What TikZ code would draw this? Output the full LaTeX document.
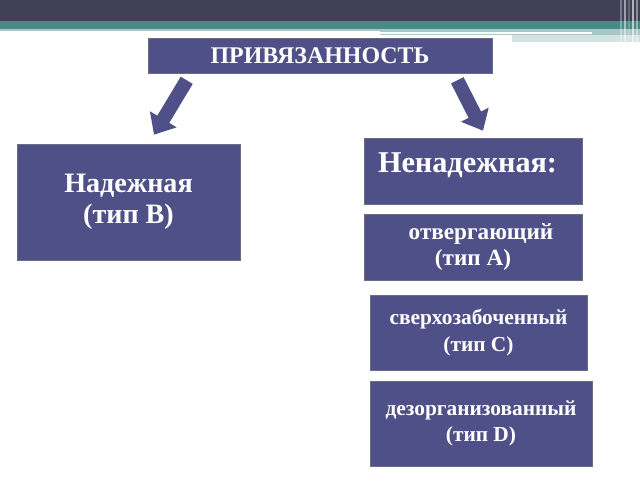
\documentclass[tikz,border=0pt]{standalone}
\usepackage{fontspec}
\setmainfont{Liberation Serif}
\usetikzlibrary{calc,arrows.meta}
\definecolor{boxblue}{RGB}{80,80,136}
\definecolor{bardark}{RGB}{64,64,88}
\definecolor{barteal}{RGB}{74,138,134}
\definecolor{barlight}{RGB}{168,200,198}

\begin{document}
\begin{tikzpicture}
[box/.style={fill=boxblue, draw=gray!60!boxblue, text=white, align=center, inner sep=0pt},
 bigtext/.style={font=\bfseries\fontsize{20}{22}\selectfont},
 smalltext/.style={font=\bfseries\fontsize{15.2}{19}\selectfont},
 blockarrow/.style={draw=boxblue, line width=0.35cm, -{Triangle[width=0.75cm,length=0.45cm]}}]
    \useasboundingbox (0,0) rectangle (16,-12);
    % banner on top
    \fill[bardark] (0,0) rectangle (16,-0.525);
    \fill[barteal] (0,-0.525) rectangle (16,-0.75);
    \fill[barlight] (0,-0.72) rectangle (16,-0.78);
    \fill[barlight] (9.5,-0.75) rectangle (16,-0.875);
    \fill[white] (9.5,-0.81) rectangle (14.8,-0.86);
    \fill[barlight!50] (12.8,-0.875) rectangle (16,-1.05);
    \foreach \x/\c in {15.5/3,15.6/5,15.7/2,15.8/6,15.9/4}
        \fill[white, opacity=0.\c] (\x,0) rectangle ++(0.05,-1.05);
    % boxes
    \node[box, minimum width=8.6cm, minimum height=0.875cm, font=\bfseries\fontsize{17}{19}\selectfont] (bond) at (8,-1.3875) {ПРИВЯЗАННОСТЬ};
    \node[box, bigtext, minimum width=5.575cm, minimum height=2.9cm] (secure) at (3.2125,-5.05) {Надежная\\(тип B)};
    \node[box, font=\bfseries\fontsize{21.5}{24}\selectfont, minimum width=5.45cm, minimum height=1.65cm, text width=4.75cm, inner xsep=0.35cm, align=left, text depth=0.4cm] (insecure) at (11.825,-4.275) {Ненадежная:};
    \node[box, font=\bfseries\fontsize{16.5}{19}\selectfont, minimum width=5.45cm, minimum height=1.65cm] (avoidant) at (11.825,-6.175) {\hspace{0.4cm}отвергающий\\(тип А)};
    \node[box, smalltext, minimum width=5.425cm, minimum height=1.875cm] (anxious) at (11.9625,-8.3125) {сверхозабоченный\\(тип С)};
    \node[box, smalltext, minimum width=5.55cm, minimum height=2.125cm] (chaotic) at (12.025,-10.5875) {дезорганизованный\\(тип D)};
    % arrows
    \draw[blockarrow] ($(bond.south west)+(0.975,-0.175)$) -- ($(secure.north)+(0.6375,0.225)$);
    \draw[blockarrow] ($(bond.south east)+(-0.875,-0.175)$) -- ($(insecure.north)+(0.25,0.175)$);
\end{tikzpicture}
\end{document}
